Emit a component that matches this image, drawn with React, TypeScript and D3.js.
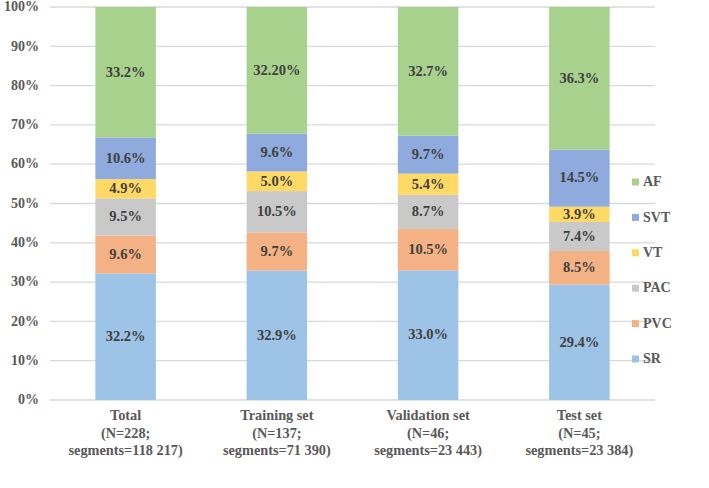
import React from "react";
import * as d3 from "d3";

const groups = ["Total", "Training set", "Validation set", "Test set"];
const groupLines = [
  ["Total", "(N=228;", "segments=118 217)"],
  ["Training set", "(N=137;", "segments=71 390)"],
  ["Validation set", "(N=46;", "segments=23 443)"],
  ["Test set", "(N=45;", "segments=23 384)"],
];

// bottom to top
const classes = ["SR", "PVC", "PAC", "VT", "SVT", "AF"];
const colors = ["#9dc3e6", "#f4b183", "#c9c9c9", "#ffd966", "#8faadc", "#a9d18e"];

const SR = [32.2, 32.9, 33.0, 29.4];
const PVC = [9.6, 9.7, 10.5, 8.5];
const PAC = [9.5, 10.5, 8.7, 7.4];
const VT = [4.9, 5.0, 5.4, 3.9];
const SVT = [10.6, 9.6, 9.7, 14.5];
const AF = [33.2, 32.2, 32.7, 36.3];
const seriesValues = [SR, PVC, PAC, VT, SVT, AF];

const labelText = [
  ["32.2%", "32.9%", "33.0%", "29.4%"],
  ["9.6%", "9.7%", "10.5%", "8.5%"],
  ["9.5%", "10.5%", "8.7%", "7.4%"],
  ["4.9%", "5.0%", "5.4%", "3.9%"],
  ["10.6%", "9.6%", "9.7%", "14.5%"],
  ["33.2%", "32.20%", "32.7%", "36.3%"],
];

const yTicks = [0, 0.1, 0.2, 0.3, 0.4, 0.5, 0.6, 0.7, 0.8, 0.9, 1];

const W = 709;
const H = 488;
const plot = { left: 50, right: 655, top: 7, bottom: 400 };
const font = "'Liberation Serif', 'Times New Roman', serif";

export default function App() {
  const rows = groups.map((g, i) => {
    const r: Record<string, any> = { group: g };
    classes.forEach((c, k) => (r[c] = seriesValues[k][i]));
    return r;
  });
  const stacked = d3.stack<any>().keys(classes).offset(d3.stackOffsetExpand)(rows);

  const x = d3.scaleBand<string>()
    .domain(groups)
    .range([plot.left, plot.right])
    .paddingInner(0.6)
    .paddingOuter(0.3);
  const y = d3.scaleLinear().domain([0, 1]).range([plot.bottom, plot.top]);

  return (
    <svg width={W} height={H} style={{ position: "absolute", left: 0, top: 0, background: "#fff" }}>
      {yTicks.map((t) => (
        <g key={t}>
          <line x1={plot.left} x2={plot.right} y1={y(t)} y2={y(t)} stroke="#d9d9d9" strokeWidth={1.3} />
          <text x={39} y={y(t) + 1} textAnchor="end" dominantBaseline="middle"
            fontFamily={font} fontWeight="bold" fontSize={14} fill="#595959">
            {d3.format(".0%")(t)}
          </text>
        </g>
      ))}
      {stacked.map((s, k) => (
        <g key={s.key} fill={colors[k]}>
          {s.map((d, i) => (
            <rect key={i} x={x(groups[i])} width={x.bandwidth()} y={y(d[1])} height={y(d[0]) - y(d[1])} />
          ))}
        </g>
      ))}
      {stacked.map((s, k) => (
        <g key={"l" + s.key}>
          {s.map((d, i) => (
            <text key={i} x={(x(groups[i]) as number) + x.bandwidth() / 2} y={y((d[0] + d[1]) / 2) + 1}
              textAnchor="middle" dominantBaseline="middle"
              fontFamily={font} fontWeight="bold" fontSize={14.5} fill="#404040">
              {labelText[k][i]}
            </text>
          ))}
        </g>
      ))}
      {groupLines.map((lines, i) => (
        <text key={i} x={(x(groups[i]) as number) + x.bandwidth() / 2} textAnchor="middle"
          fontFamily={font} fontWeight="bold" fontSize={14.3} fill="#595959">
          {lines.map((ln, j) => (
            <tspan key={j} x={(x(groups[i]) as number) + x.bandwidth() / 2} y={420 + j * 17.5}>{ln}</tspan>
          ))}
        </text>
      ))}
      {classes.slice().reverse().map((c, j) => {
        const k = classes.length - 1 - j;
        const cy = 182 + j * 35.4;
        return (
          <g key={c}>
            <rect x={632} y={cy - 3.5} width={7} height={7} fill={colors[k]} />
            <text x={643} y={cy + 1} dominantBaseline="middle"
              fontFamily={font} fontWeight="bold" fontSize={14} fill="#595959">
              {c}
            </text>
          </g>
        );
      })}
    </svg>
  );
}
